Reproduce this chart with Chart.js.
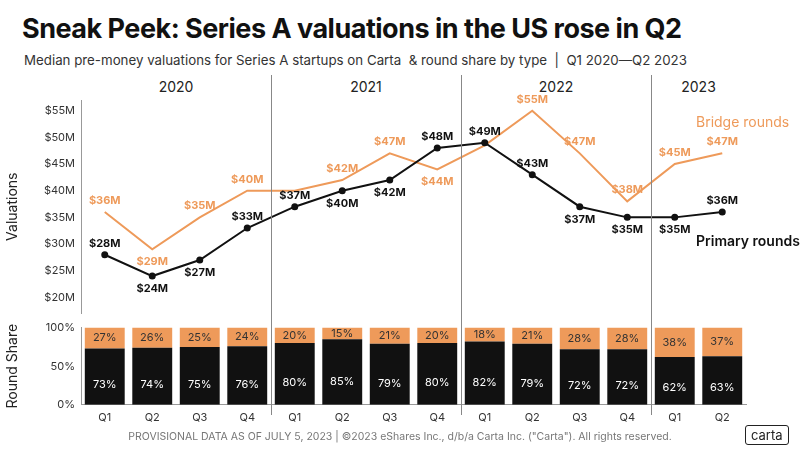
<!DOCTYPE html>
<html>
<head>
<meta charset="utf-8">
<script src="https://cdn.jsdelivr.net/npm/chart.js@4"></script>
<style>
  body { margin: 0; width: 800px; height: 449px; background: #fff; font-family: Inter, "Noto Sans", sans-serif; position: relative; overflow: hidden; }
  .abs { position: absolute; }
  #title { left: 22px; top: 12px; font-size: 27px; font-weight: 700; color: #111; letter-spacing: -0.5px; }
  #sub { left: 24px; top: 52px; font-size: 13.3px; color: #333; }
  .year { top: 78px; font-size: 14px; color: #222; text-align: center; }
  #foot { left: 0; width: 800px; top: 430px; text-align: center; font-size: 10.5px; color: #777; }
  #logo { left: 745px; top: 425px; border: 1.5px solid #222; border-radius: 3px; padding: 1px 5px; font-size: 13px; color: #222; }
</style>
</head>
<body>
<div id="title" class="abs">Sneak Peek: Series A valuations in the US rose in Q2</div>
<div id="sub" class="abs">Median pre-money valuations for Series A startups on Carta &nbsp;&amp; round share by type &nbsp;|&nbsp; Q1 2020—Q2 2023</div>
<div class="abs year" style="left:81px;width:190px">2020</div>
<div class="abs year" style="left:271px;width:190px">2021</div>
<div class="abs year" style="left:461px;width:190px">2022</div>
<div class="abs year" style="left:651px;width:95px">2023</div>
<div class="abs" style="left:0;top:75px;width:800px;height:251px"><canvas id="lineChart"></canvas></div>
<div class="abs" style="left:0;top:315px;width:800px;height:115px"><canvas id="barChart"></canvas></div>
<div id="foot" class="abs">PROVISIONAL DATA AS OF JULY 5, 2023 | ©2023 eShares Inc., d/b/a Carta Inc. ("Carta"). All rights reserved.</div>
<div id="logo" class="abs">carta</div>
<script>
var quarters = ["Q1", "Q2", "Q3", "Q4", "Q1", "Q2", "Q3", "Q4", "Q1", "Q2", "Q3", "Q4", "Q1", "Q2"];
var primaryVal = [28, 24, 27, 33, 37, 40, 42, 48, 49, 43, 37, 35, 35, 36];
var bridgeVal = [36, 29, 35, 40, 40, 42, 47, 44, 48.5, 55, 47, 38, 45, 47];
var bridgeShare = [27, 26, 25, 24, 20, 15, 21, 20, 18, 21, 28, 28, 38, 37];
var primaryShare = [73, 74, 75, 76, 80, 85, 79, 80, 82, 79, 72, 72, 62, 63];
var valueTicks = [20, 25, 30, 35, 40, 45, 50, 55];
var shareTicks = [0, 50, 100];

var ORANGE = "#ee9a5a";
var BLACK = "#111";
var FONT = "Inter, 'Noto Sans', sans-serif";
Chart.defaults.font.family = FONT;
Chart.defaults.color = "#333";

// label placement: "a" above, "b" below, "n" none
var primaryPos = ["a", "b", "b", "a", "a", "b", "b", "a", "a", "a", "b", "b", "b", "a"];
var bridgePos = ["a", "b", "a", "a", "n", "a", "a", "b", "n", "a", "a", "a", "a", "a"];

var separators = {
  id: "separators",
  afterDraw: function (chart) {
    var x = chart.scales.x, c = chart.ctx;
    c.save();
    c.strokeStyle = "#888";
    c.lineWidth = 1;
    [4, 8, 12].forEach(function (i) {
      var px = Math.round((x.getPixelForValue(i - 1) + x.getPixelForValue(i)) / 2) + 0.5;
      c.beginPath();
      c.moveTo(px, 0);
      c.lineTo(px, chart.options.sepBottom);
      c.stroke();
    });
    c.restore();
  }
};

var pointLabels = {
  id: "pointLabels",
  afterDatasetsDraw: function (chart) {
    var c = chart.ctx;
    c.save();
    c.font = "bold 11px " + FONT;
    c.textAlign = "center";
    [[0, primaryVal, primaryPos, BLACK], [1, bridgeVal, bridgePos, ORANGE]].forEach(function (d) {
      var meta = chart.getDatasetMeta(d[0]);
      meta.data.forEach(function (pt, i) {
        if (d[2][i] == "n") return;
        c.fillStyle = d[3];
        var y = d[2][i] == "a" ? pt.y - 8 : pt.y + 16;
        c.fillText("$" + Math.round(d[1][i]) + "M", pt.x, y);
      });
    });
    c.restore();
  }
};

var barLabels = {
  id: "barLabels",
  afterDatasetsDraw: function (chart) {
    var c = chart.ctx;
    c.save();
    c.font = "11px " + FONT;
    c.textAlign = "center";
    c.textBaseline = "middle";
    var y = chart.scales.y;
    chart.getDatasetMeta(0).data.forEach(function (b, i) {
      c.fillStyle = "#fff";
      c.fillText(primaryShare[i] + "%", b.x, y.getPixelForValue(primaryShare[i] * 0.35));
    });
    chart.getDatasetMeta(1).data.forEach(function (b, i) {
      c.fillStyle = "#333";
      c.fillText(bridgeShare[i] + "%", b.x, (b.y + b.base) / 2);
    });
    c.restore();
  }
};

function fixY(axis) { axis.width = 81; }

new Chart(document.getElementById("lineChart"), {
  type: "line",
  data: {
    labels: quarters,
    datasets: [
      { data: primaryVal, borderColor: BLACK, backgroundColor: BLACK, borderWidth: 2, pointRadius: 2.5, tension: 0 },
      { data: bridgeVal, borderColor: ORANGE, backgroundColor: ORANGE, borderWidth: 2, pointRadius: 0, tension: 0 }
    ]
  },
  plugins: [separators, pointLabels],
  options: {
    sepBottom: 240,
    responsive: true, maintainAspectRatio: false, animation: false,
    layout: { padding: { top: 25, right: 54, bottom: 0, left: 0 } },
    plugins: { legend: { display: false }, tooltip: { enabled: false } },
    scales: {
      x: { display: false, offset: true, grid: { display: false } },
      y: {
        min: 17, max: 57,
        afterFit: fixY,
        afterBuildTicks: function (a) { a.ticks = valueTicks.map(function (v) { return { value: v }; }); },
        grid: { display: false, drawTicks: false },
        border: { color: "#999" },
        ticks: { color: "#333", font: { size: 11 }, padding: 6, callback: function (v) { return "$" + v + "M"; } },
        title: { display: true, text: "Valuations", font: { size: 14 }, color: "#222" }
      }
    }
  }
});

new Chart(document.getElementById("barChart"), {
  type: "bar",
  data: {
    labels: quarters,
    datasets: [
      { data: primaryShare, backgroundColor: BLACK, barPercentage: 0.84, categoryPercentage: 1 },
      { data: bridgeShare, backgroundColor: ORANGE, barPercentage: 0.84, categoryPercentage: 1 }
    ]
  },
  plugins: [separators, barLabels],
  options: {
    sepBottom: 100,
    responsive: true, maintainAspectRatio: false, animation: false,
    layout: { padding: { top: 9, right: 54, bottom: 0, left: 0 } },
    plugins: { legend: { display: false }, tooltip: { enabled: false } },
    scales: {
      x: {
        stacked: true,
        grid: { display: false, drawTicks: false },
        border: { color: "#999" },
        ticks: { color: "#333", font: { size: 11 }, padding: 6 }
      },
      y: {
        stacked: true, min: 0, max: 100,
        afterFit: fixY,
        afterBuildTicks: function (a) { a.ticks = shareTicks.map(function (v) { return { value: v }; }); },
        grid: { display: false, drawTicks: false },
        border: { color: "#999" },
        ticks: { color: "#333", font: { size: 11 }, padding: 6, callback: function (v) { return v + "%"; } },
        title: { display: true, text: "Round Share", font: { size: 14 }, color: "#222" }
      }
    }
  }
});
</script>
<div class="abs" style="left:696px;top:113px;font-size:14px;color:#ee9a5a">Bridge rounds</div>
<div class="abs" style="left:696px;top:232px;font-size:14px;color:#111;font-weight:600">Primary rounds</div>
</body>
</html>
